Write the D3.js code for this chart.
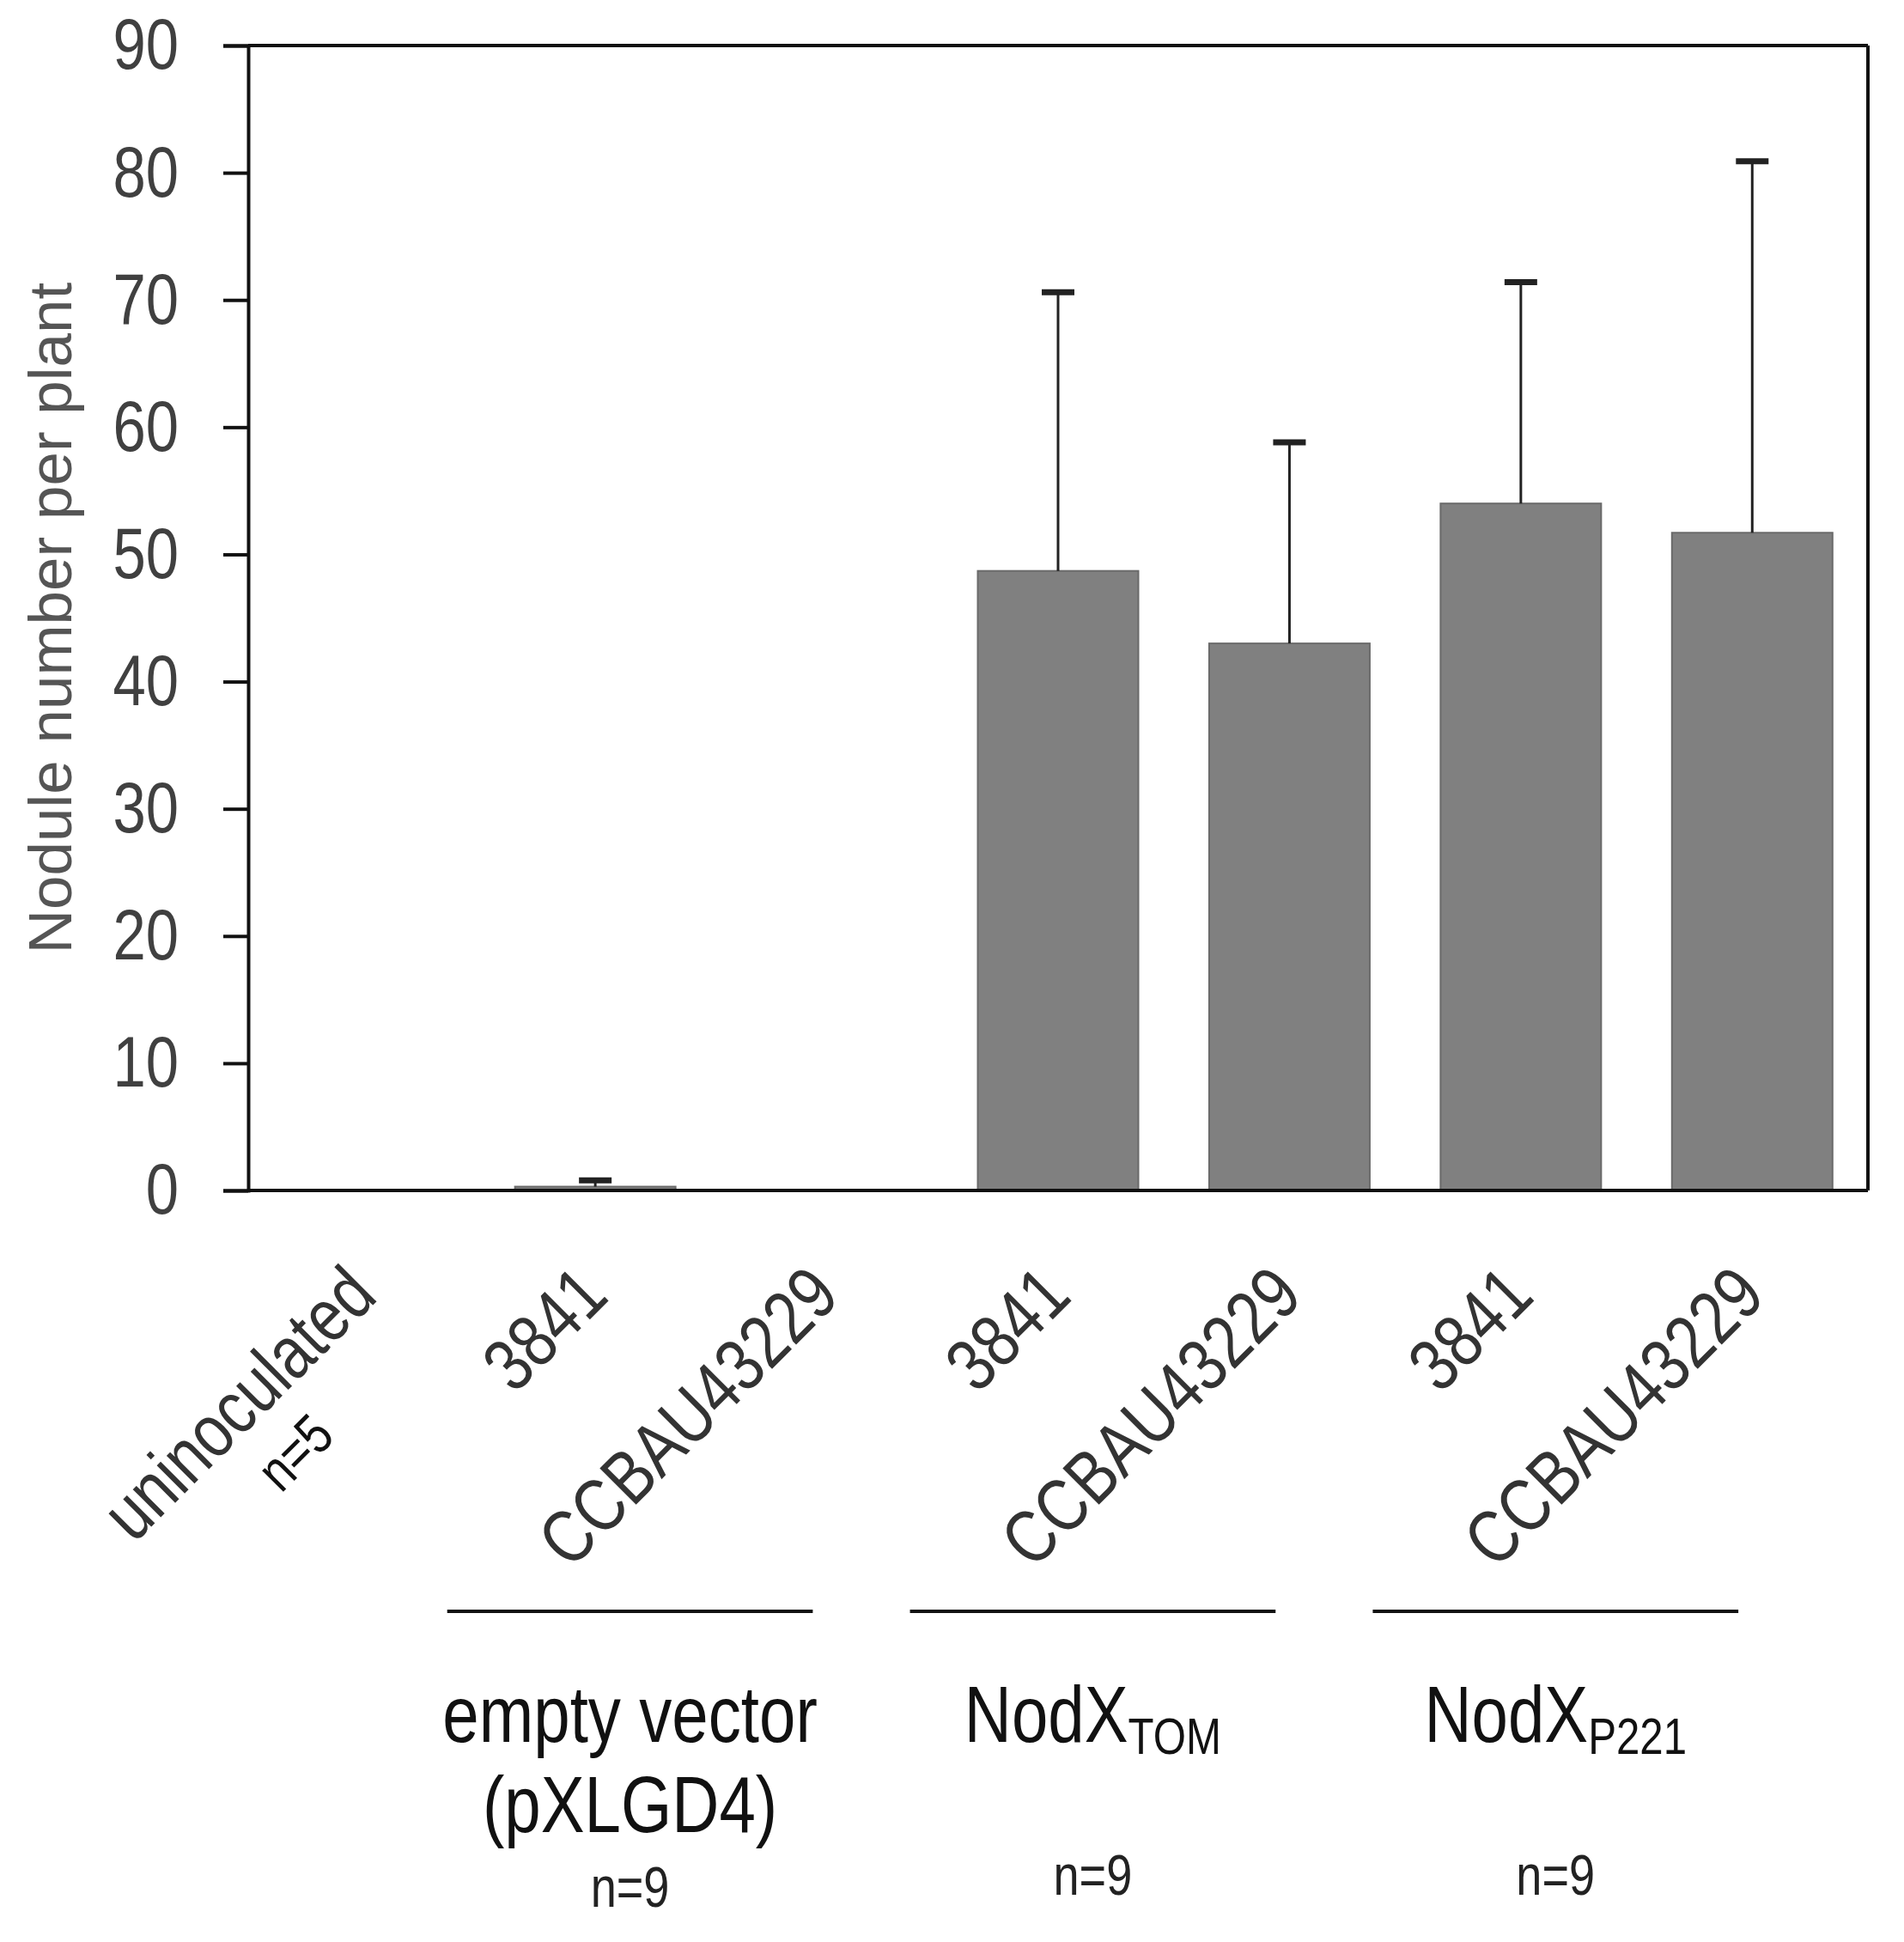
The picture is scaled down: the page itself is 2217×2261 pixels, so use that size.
<!DOCTYPE html>
<html>
<head>
<meta charset="utf-8">
<script src="https://cdn.jsdelivr.net/npm/d3@7"></script>
<style>
  body { margin: 0; background: #fff; }
  text { font-family: 'Liberation Sans', Arial, sans-serif; }
</style>
</head>
<body>
<script>
// strains on the x axis (one bar each)
const strains = ['uninoculated', '3841', 'CCBAU43229', '3841', 'CCBAU43229', '3841', 'CCBAU43229']
const strainN = ['n=5', '', '', '', '', '', '']
// mean nodules per plant and upper error (SD)
const means = [0, 0.3, 0, 48.7, 43.0, 54.0, 51.7]
const errors = [0, 0.5, 0, 21.9, 15.8, 17.4, 29.2]
const yTicks = [0, 10, 20, 30, 40, 50, 60, 70, 80, 90]

// plasmid groups under the strain labels
const groupNames = ['empty vector', 'NodX', 'NodX']
const groupSubs = ['', 'TOM', 'P221']
const groupLine2 = ['(pXLGD4)', '', '']
const groupN = ['n=9', 'n=9', 'n=9']
const groupMembers = [[1, 2], [3, 4], [5, 6]]

const margin = {top: 53, right: 42, bottom: 875, left: 289}
const W = 2217, H = 2261
const width = W - margin.left - margin.right
const height = H - margin.top - margin.bottom
const SX = 0.82 // horizontal squeeze, narrow typeface look

const svg = d3.select('body').append('svg')
  .attr('width', W)
  .attr('height', H)

const g = svg.append('g')
  .attr('transform', `translate(${margin.left},${margin.top})`)

const x = d3.scaleBand()
  .domain(strains.map((d, i) => i))
  .range([0, width])
  .paddingInner(0.306)
  .paddingOuter(0.153)
const y = d3.scaleLinear().domain([0, 90]).range([height, 0])
const cx = i => x(i) + x.bandwidth() / 2

const rows = means.map((m, i) => ({i, m, e: errors[i]}))

// bars
g.selectAll('rect.bar').data(rows).join('rect')
  .attr('class', 'bar')
  .attr('x', d => x(d.i))
  .attr('width', x.bandwidth())
  .attr('y', d => y(d.m))
  .attr('height', d => y(0) - y(d.m))
  .attr('fill', '#808080')
  .attr('stroke', '#6a6a6a')
  .attr('stroke-width', 2)

// error bars (upper only)
const capW = 38
const err = g.selectAll('g.err').data(rows.filter(d => d.e > 0)).join('g')
  .attr('class', 'err')
err.append('line')
  .attr('x1', d => cx(d.i))
  .attr('x2', d => cx(d.i))
  .attr('y1', d => y(d.m))
  .attr('y2', d => y(d.m + d.e))
  .attr('stroke', '#222').attr('stroke-width', 3)
err.append('line')
  .attr('x1', d => cx(d.i) - capW / 2)
  .attr('x2', d => cx(d.i) + capW / 2)
  .attr('y1', d => y(d.m + d.e))
  .attr('y2', d => y(d.m + d.e))
  .attr('stroke', '#222').attr('stroke-width', 7)

// y axis
const yAxis = d3.axisLeft(y).tickValues(yTicks).tickSize(29).tickPadding(52)
const gy = g.append('g').call(yAxis)
gy.select('.domain').attr('stroke', '#111').attr('stroke-width', 4)
gy.selectAll('.tick line').attr('stroke', '#111').attr('stroke-width', 4)
gy.selectAll('.tick text')
  .attr('font-size', 84)
  .attr('fill', '#404040')
  .attr('x', -81 / SX)
  .attr('transform', `scale(${SX},1)`)

// frame: bottom, top, right
g.append('line').attr('x1', 0).attr('x2', width).attr('y1', y(0)).attr('y2', y(0))
  .attr('stroke', '#111').attr('stroke-width', 4)
g.append('line').attr('x1', 0).attr('x2', width).attr('y1', y(90)).attr('y2', y(90))
  .attr('stroke', '#111').attr('stroke-width', 4)
g.append('line').attr('x1', width).attr('x2', width).attr('y1', y(90)).attr('y2', y(0))
  .attr('stroke', '#111').attr('stroke-width', 4)

// y title
svg.append('text')
  .attr('transform', `translate(83,${margin.top + height * 0.5}) rotate(-90)`)
  .attr('text-anchor', 'middle')
  .attr('font-size', 71)
  .attr('fill', '#555')
  .text('Nodule number per plant')

// rotated strain labels
const xl = g.selectAll('text.strain').data(strains).join('text')
  .attr('class', 'strain')
  .attr('transform', (d, i) => `translate(${cx(i) + 18},${height + 126}) rotate(-45) scale(${SX},1)`)
  .attr('text-anchor', 'end')
  .attr('font-size', 87)
  .attr('fill', '#333')
xl.append('tspan').text(d => d)
xl.filter((d, i) => strainN[i] !== '').append('tspan')
  .attr('x', -196 / SX).attr('dy', 80)
  .attr('text-anchor', 'middle')
  .attr('font-size', 66)
  .attr('fill', '#111')
  .text((d, i) => strainN[strains.indexOf(d)])

// group lines and labels
const step = x.step()
const groups = groupNames.map((name, k) => {
  const [a, b] = groupMembers[k]
  const mid = (x(a) + x(b) + x.bandwidth()) / 2 - 0.35 * step
  return {name, sub: groupSubs[k], line2: groupLine2[k], n: groupN[k], mid}
})
const gg = g.selectAll('g.group').data(groups).join('g').attr('class', 'group')
gg.append('line')
  .attr('x1', d => d.mid - 0.79 * step)
  .attr('x2', d => d.mid + 0.79 * step)
  .attr('y1', height + 490).attr('y2', height + 490)
  .attr('stroke', '#111').attr('stroke-width', 4)
const name = gg.append('text')
  .attr('transform', d => `translate(${d.mid},${height + 642}) scale(${SX},1)`)
  .attr('text-anchor', 'middle')
  .attr('font-size', 93)
  .attr('fill', '#111')
name.append('tspan').text(d => d.name)
name.filter(d => d.sub).append('tspan')
  .attr('font-size', 60)
  .attr('dy', 14)
  .text(d => d.sub)
gg.filter(d => d.line2).append('text')
  .attr('transform', d => `translate(${d.mid},${height + 747}) scale(${SX},1)`)
  .attr('text-anchor', 'middle')
  .attr('font-size', 93)
  .attr('fill', '#111')
  .text(d => d.line2)
gg.append('text')
  .attr('transform', d => `translate(${d.mid},${height + (d.line2 ? 834 : 820)}) scale(${SX},1)`)
  .attr('text-anchor', 'middle')
  .attr('font-size', 66)
  .attr('fill', '#222')
  .text(d => d.n)
</script>
</body>
</html>
